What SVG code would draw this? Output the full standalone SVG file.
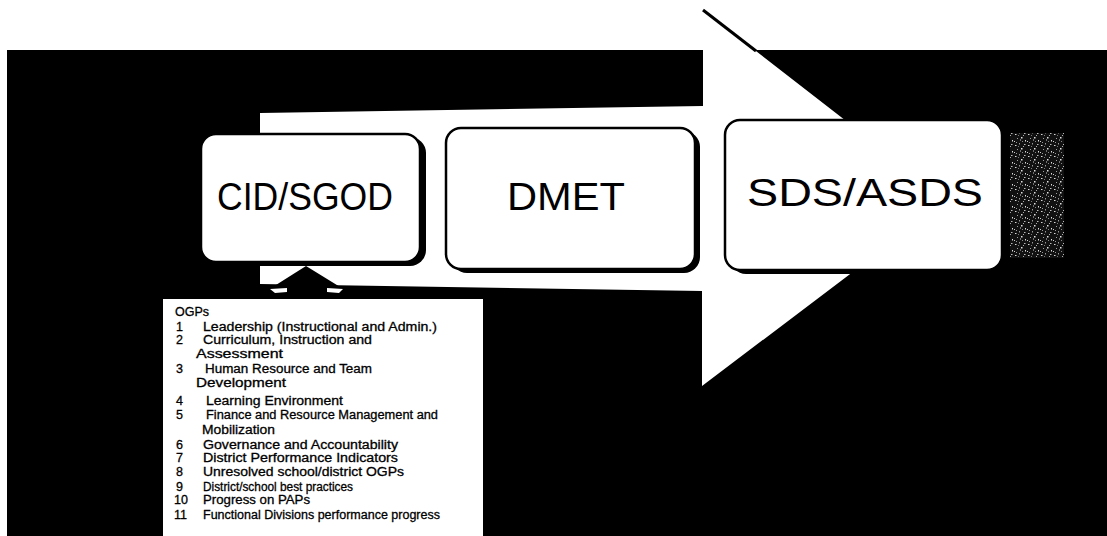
<svg xmlns="http://www.w3.org/2000/svg" width="1107" height="536" viewBox="0 0 1107 536">
  <defs>
    <style>
      .box { fill: #ffffff; stroke: #000000; stroke-width: 2.5; }
      .shadow { fill: #000000; }
      .label { font-family: "Liberation Sans", Arial, sans-serif; font-size: 38px; fill: #000000; }
      .ogp { font-family: "Liberation Sans", Arial, sans-serif; font-size: 12.5px; fill: #000000; stroke: #000000; stroke-width: 0.3; }
    </style>
    <!-- grainy shading to the right of the last box -->
    <pattern id="grain" width="13" height="11" patternUnits="userSpaceOnUse">
      <rect width="13" height="11" fill="#111111"/>
      <rect x="1" y="2" width="1.5" height="1" fill="#d8d8d8"/>
      <rect x="5" y="0" width="1" height="1.5" fill="#999999"/>
      <rect x="7" y="5" width="1.5" height="1.5" fill="#e0e0e0"/>
      <rect x="3" y="6" width="1" height="1" fill="#a0a0a0"/>
      <rect x="0" y="9" width="1" height="1" fill="#cccccc"/>
      <rect x="10" y="1" width="1.5" height="1" fill="#bbbbbb"/>
      <rect x="11" y="8" width="1" height="1.5" fill="#dddddd"/>
      <rect x="8" y="9" width="1" height="1" fill="#888888"/>
      <rect x="4" y="3" width="1" height="1" fill="#777777"/>
      <rect x="9" y="3" width="1" height="1" fill="#aaaaaa"/>
      <rect x="2" y="10" width="1" height="1" fill="#999999"/>
      <rect x="6" y="7.5" width="1" height="1" fill="#cfcfcf"/>
    </pattern>
  </defs>

  <!-- page and dark panel -->
  <rect x="0" y="0" width="1107" height="536" fill="#ffffff"/>
  <rect x="7" y="50" width="1100" height="486" fill="#000000"/>
  <rect x="1010" y="133" width="54" height="125" fill="url(#grain)"/>

  <g id="connectors">
    <!-- broad flow arrow running left to right behind the boxes -->
    <polygon points="260,113 703,106 703,10 948,200 702,386 702,291 260,284" fill="#ffffff"/>
    <line x1="703" y1="10" x2="756" y2="51" stroke="#000000" stroke-width="3"/>
    <!-- input arrow from the OGPs list up into CID/SGOD -->
    <polygon points="306,266 345,290 326,290 326,301 288,301 288,290 268,290" fill="#000000"/>
    <polygon points="270,289 287,288 287,292 275,293" fill="#ffffff"/>
    <polygon points="327,288 343,289 339,293 327,292" fill="#ffffff"/>
  </g>

  <g id="node-cid-sgod">
    <rect class="shadow" x="206" y="137" width="220" height="129" rx="16"/>
    <rect class="box" x="201" y="134" width="219" height="128" rx="15"/>
    <text class="label" x="217" y="210" textLength="176" lengthAdjust="spacingAndGlyphs" font-size="35">CID/SGOD</text>
  </g>

  <g id="node-dmet">
    <rect class="shadow" x="451" y="131" width="249" height="142" rx="16"/>
    <rect class="box" x="446" y="128" width="249" height="141" rx="15"/>
    <text class="label" x="507" y="210" textLength="118" lengthAdjust="spacingAndGlyphs" font-size="37">DMET</text>
  </g>

  <g id="node-sds-asds">
    <rect class="shadow" x="730" y="123" width="278" height="151" rx="16"/>
    <rect class="box" x="725" y="120" width="277" height="150" rx="15"/>
    <text class="label" x="747" y="206" textLength="236" lengthAdjust="spacingAndGlyphs">SDS/ASDS</text>
  </g>

  <g id="node-ogps">
    <rect x="163" y="299" width="320" height="237" fill="#ffffff"/>
    <text class="ogp" x="175" y="316">OGPs</text>
    <text class="ogp" x="176" y="331">1</text>
    <text class="ogp" x="203" y="331" textLength="234" lengthAdjust="spacingAndGlyphs">Leadership (Instructional and Admin.)</text>
    <text class="ogp" x="176" y="344">2</text>
    <text class="ogp" x="203" y="344" textLength="169" lengthAdjust="spacingAndGlyphs">Curriculum, Instruction and</text>
    <text class="ogp" x="196" y="358" textLength="87" lengthAdjust="spacingAndGlyphs">Assessment</text>
    <text class="ogp" x="176" y="373">3</text>
    <text class="ogp" x="205" y="373" textLength="167" lengthAdjust="spacingAndGlyphs">Human Resource and Team</text>
    <text class="ogp" x="196" y="387" textLength="90" lengthAdjust="spacingAndGlyphs">Development</text>
    <text class="ogp" x="176" y="405">4</text>
    <text class="ogp" x="206" y="405" textLength="137" lengthAdjust="spacingAndGlyphs">Learning Environment</text>
    <text class="ogp" x="176" y="419">5</text>
    <text class="ogp" x="206" y="419" textLength="232" lengthAdjust="spacingAndGlyphs">Finance and Resource  Management and</text>
    <text class="ogp" x="202" y="434" textLength="73" lengthAdjust="spacingAndGlyphs">Mobilization</text>
    <text class="ogp" x="176" y="449">6</text>
    <text class="ogp" x="203" y="449" textLength="195" lengthAdjust="spacingAndGlyphs">Governance and Accountability</text>
    <text class="ogp" x="176" y="462">7</text>
    <text class="ogp" x="203" y="462" textLength="195" lengthAdjust="spacingAndGlyphs">District Performance Indicators</text>
    <text class="ogp" x="176" y="476">8</text>
    <text class="ogp" x="203" y="476" textLength="201" lengthAdjust="spacingAndGlyphs">Unresolved school/district OGPs</text>
    <text class="ogp" x="176" y="491">9</text>
    <text class="ogp" x="203" y="491" textLength="150" lengthAdjust="spacingAndGlyphs">District/school best practices</text>
    <text class="ogp" x="174" y="504">10</text>
    <text class="ogp" x="203" y="504" textLength="107" lengthAdjust="spacingAndGlyphs">Progress on PAPs</text>
    <text class="ogp" x="174" y="519">11</text>
    <text class="ogp" x="203" y="519" textLength="237" lengthAdjust="spacingAndGlyphs">Functional Divisions performance progress</text>
  </g>
</svg>
